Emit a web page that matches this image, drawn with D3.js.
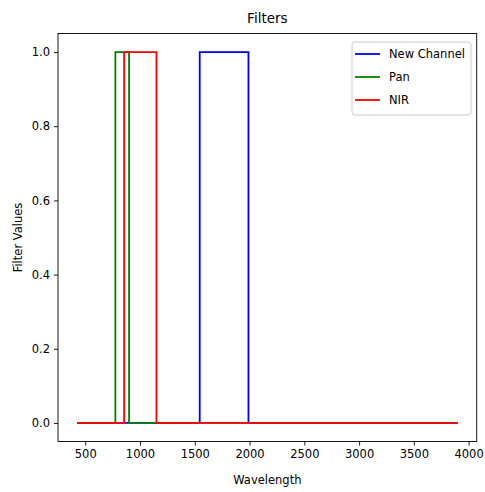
<!DOCTYPE html>
<html>
<head>
<meta charset="utf-8">
<script src="https://cdn.jsdelivr.net/npm/d3@7"></script>
<style>
  body { margin: 0; background: #fff; }
  text { font-family: "DejaVu Sans", sans-serif; fill: #000; }
</style>
</head>
<body>
<script>
// filter edges (wavelength, filter value)
const newChannel = [[425, 0], [1545, 0], [1545, 1], [1990, 1], [1990, 0], [3900, 0]];
const pan = [[425, 0], [775, 0], [775, 1], [900, 1], [900, 0], [3900, 0]];
const nir = [[425, 0], [855, 0], [855, 1], [1150, 1], [1150, 0], [3900, 0]];

const seriesNames = ["New Channel", "Pan", "NIR"];
const seriesColors = ["#0000ff", "#008000", "#ff0000"];
const xTicks = [500, 1000, 1500, 2000, 2500, 3000, 3500, 4000];
const yTicks = [0, 0.2, 0.4, 0.6, 0.8, 1.0];

const width = 485, height = 492;
const margin = { top: 33.5, right: 8.3, bottom: 50.5, left: 58 };

const svg = d3.select("body").append("svg")
  .attr("width", width)
  .attr("height", height);

const series = [newChannel, pan, nir];
const allX = series.flat().map((d) => d[0]);
const [x0, x1] = d3.extent(allX);
const pad = (x1 - x0) * 0.05;

const x = d3.scaleLinear()
  .domain([x0 - pad, x1 + pad])
  .range([margin.left, width - margin.right]);
const y = d3.scaleLinear()
  .domain([-0.05, 1.05])
  .range([height - margin.bottom, margin.top]);

const line = d3.line()
  .x((d) => x(d[0]))
  .y((d) => y(d[1]));

series.forEach((s, i) => {
  svg.append("path")
    .datum(s)
    .attr("fill", "none")
    .attr("stroke", seriesColors[i])
    .attr("stroke-width", 1.8)
    .attr("d", line);
});

// axes
const xAxis = svg.append("g")
  .attr("transform", `translate(0,${height - margin.bottom})`)
  .call(d3.axisBottom(x).tickValues(xTicks).tickSize(4).tickPadding(4).tickFormat(d3.format("d")));
const yAxis = svg.append("g")
  .attr("transform", `translate(${margin.left},0)`)
  .call(d3.axisLeft(y).tickValues(yTicks).tickSize(4).tickPadding(4).tickFormat(d3.format(".1f")));

[xAxis, yAxis].forEach((a) => {
  a.select(".domain").remove();
  a.selectAll("line").attr("stroke", "#000").attr("stroke-width", 0.9);
  a.selectAll("text").style("font-size", "11.5px").attr("fill", "#000");
});

// frame
svg.append("rect")
  .attr("x", margin.left)
  .attr("y", margin.top)
  .attr("width", width - margin.left - margin.right)
  .attr("height", height - margin.top - margin.bottom)
  .attr("fill", "none")
  .attr("stroke", "#000")
  .attr("stroke-width", 0.9);

const cx = (margin.left + width - margin.right) / 2;

svg.append("text")
  .attr("x", cx)
  .attr("y", 23)
  .attr("text-anchor", "middle")
  .style("font-size", "13.5px")
  .text("Filters");

svg.append("text")
  .attr("x", cx)
  .attr("y", 484)
  .attr("text-anchor", "middle")
  .style("font-size", "11.5px")
  .text("Wavelength");

svg.append("text")
  .attr("transform", `translate(22,${(margin.top + height - margin.bottom) / 2}) rotate(-90)`)
  .attr("text-anchor", "middle")
  .style("font-size", "11.5px")
  .text("Filter Values");

// legend
const legend = svg.append("g").attr("transform", "translate(352,42)");
legend.append("rect")
  .attr("width", 119)
  .attr("height", 73)
  .attr("rx", 3)
  .attr("fill", "#fff")
  .attr("fill-opacity", 0.8)
  .attr("stroke", "#cccccc");

seriesNames.forEach((name, i) => {
  const row = legend.append("g").attr("transform", `translate(0,${12 + i * 23})`);
  row.append("line")
    .attr("x1", 3).attr("x2", 28)
    .attr("stroke", seriesColors[i])
    .attr("stroke-width", 1.8);
  row.append("text")
    .attr("x", 37)
    .attr("dy", "0.35em")
    .style("font-size", "11.5px")
    .text(name);
});
</script>
</body>
</html>
